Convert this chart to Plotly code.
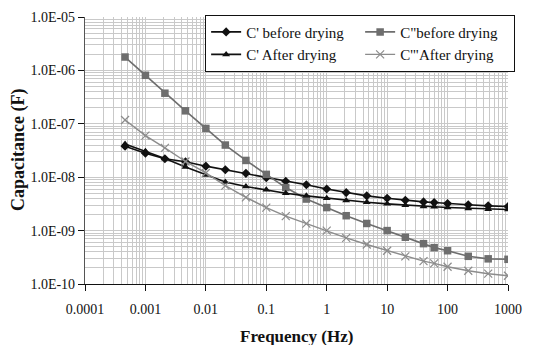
import plotly.graph_objects as go

freq = [0.00046, 0.001, 0.0021, 0.0046, 0.01, 0.021, 0.046, 0.1, 0.21, 0.46,
        1, 2.1, 4.6, 10, 20, 40, 60, 100, 220, 470, 1000]

c1_before = [3.8e-8, 2.82e-8, 2.21e-8, 1.95e-8, 1.61e-8, 1.38e-8, 1.18e-8, 9.8e-9,
             8.4e-9, 7.2e-9, 6.0e-9, 5.15e-9, 4.47e-9, 4.04e-9, 3.7e-9, 3.45e-9,
             3.36e-9, 3.2e-9, 3.04e-9, 2.91e-9, 2.83e-9]
c2_before = [1.78e-6, 8.1e-7, 3.74e-7, 1.75e-7, 8.2e-8, 4.0e-8, 2.06e-8, 1.13e-8,
             6.4e-9, 3.9e-9, 2.7e-9, 1.9e-9, 1.36e-9, 1.0e-9, 7.5e-10, 5.7e-10,
             4.8e-10, 4.2e-10, 3.3e-10, 2.96e-10, 2.9e-10]
c1_after = [4.2e-8, 3.07e-8, 2.25e-8, 1.55e-8, 1.1e-8, 8.1e-9, 6.7e-9, 5.8e-9,
            5.0e-9, 4.47e-9, 4.04e-9, 3.65e-9, 3.4e-9, 3.17e-9, 2.99e-9, 2.83e-9,
            2.79e-9, 2.71e-9, 2.6e-9, 2.52e-9, 2.48e-9]
c2_after = [1.18e-7, 6.0e-8, 3.55e-8, 1.97e-8, 1.2e-8, 6.95e-9, 4.2e-9, 2.7e-9,
            1.87e-9, 1.35e-9, 1.0e-9, 7.3e-10, 5.5e-10, 4.2e-10, 3.3e-10, 2.68e-10,
            2.43e-10, 2.1e-10, 1.77e-10, 1.56e-10, 1.43e-10]

names = ["C' before drying", "C\"before drying", "C' After drying", "C'\"After drying"]
x_title = "<b>Frequency (Hz)</b>"
y_title = "<b>Capacitance (F)</b>"

x_tickvals = [1e-4, 1e-3, 1e-2, 1e-1, 1, 10, 100, 1000]
x_ticktext = ["0.0001", "0.001", "0.01", "0.1", "1", "10", "100", "1000"]
y_tickvals = [1e-10, 1e-9, 1e-8, 1e-7, 1e-6, 1e-5]
y_ticktext = ["1.0E-10", "1.0E-09", "1.0E-08", "1.0E-07", "1.0E-06", "1.0E-05"]

x_minor = [k * 10.0 ** e for e in range(-4, 3) for k in range(2, 10)]
y_minor = [k * 10.0 ** e for e in range(-10, -5) for k in range(2, 10)]

FONT = "Liberation Serif"
GRID = "#c9c9c9"

fig = go.Figure()
fig.add_trace(go.Scatter(x=freq, y=c1_before, name=names[0], mode="lines+markers",
                         line=dict(color="#111111", width=1.6),
                         marker=dict(symbol="diamond", size=7, color="#111111")))
fig.add_trace(go.Scatter(x=freq, y=c2_before, name=names[1], mode="lines+markers",
                         line=dict(color="#6e6e6e", width=1.6),
                         marker=dict(symbol="square", size=7.5, color="#6e6e6e")))
fig.add_trace(go.Scatter(x=freq, y=c1_after, name=names[2], mode="lines+markers",
                         line=dict(color="#111111", width=1.6),
                         marker=dict(symbol="triangle-up", size=7, color="#111111")))
fig.add_trace(go.Scatter(x=freq, y=c2_after, name=names[3], mode="lines+markers",
                         line=dict(color="#8c8c8c", width=1.4),
                         marker=dict(symbol="x-thin-open", size=8,
                                     line=dict(color="#8c8c8c", width=1.2))))

# the page body has an 8px margin, so the figure is drawn 8px in from the top-left
fig.update_layout(
    width=531, height=337,
    margin=dict(l=77, r=31, t=8, b=61),
    paper_bgcolor="white", plot_bgcolor="white",
    font=dict(family=FONT, size=14, color="#111111"),
    showlegend=True,
    legend=dict(orientation="h", x=0.284, y=1.005, xanchor="left", yanchor="top",
                bgcolor="white", bordercolor="#111111", borderwidth=1,
                font=dict(family=FONT, size=15, color="#111111"),
                entrywidth=109, entrywidthmode="pixels",
                itemwidth=30, tracegroupgap=0),
    annotations=[
        dict(text=x_title, xref="paper", yref="paper", x=0.5, y=-0.197,
             xanchor="center", yanchor="middle", showarrow=False,
             font=dict(family=FONT, size=17, color="#111111")),
        dict(text=y_title, xref="paper", yref="paper", x=-0.157, y=0.5,
             xanchor="center", yanchor="middle", showarrow=False, textangle=-90,
             font=dict(family=FONT, size=18, color="#111111")),
    ],
)
fig.update_xaxes(type="log", range=[-4, 3], tickvals=x_tickvals, ticktext=x_ticktext,
                 automargin=False,
                 showgrid=True, gridcolor=GRID, gridwidth=1,
                 minor=dict(tickvals=x_minor, showgrid=True, gridcolor=GRID, gridwidth=1),
                 showline=True, linecolor="#111111", linewidth=1.2,
                 ticks="outside", ticklen=6, tickcolor="#111111",
                 ticklabelstandoff=6,
                 zeroline=False)
fig.update_yaxes(type="log", range=[-10, -5], tickvals=y_tickvals, ticktext=y_ticktext,
                 automargin=False,
                 showgrid=True, gridcolor=GRID, gridwidth=1,
                 minor=dict(tickvals=y_minor, showgrid=True, gridcolor=GRID, gridwidth=1),
                 showline=True, linecolor="#555555", linewidth=1.2,
                 ticks="outside", ticklen=6, tickcolor="#111111",
                 zeroline=False)

fig.write_html("out.html")
